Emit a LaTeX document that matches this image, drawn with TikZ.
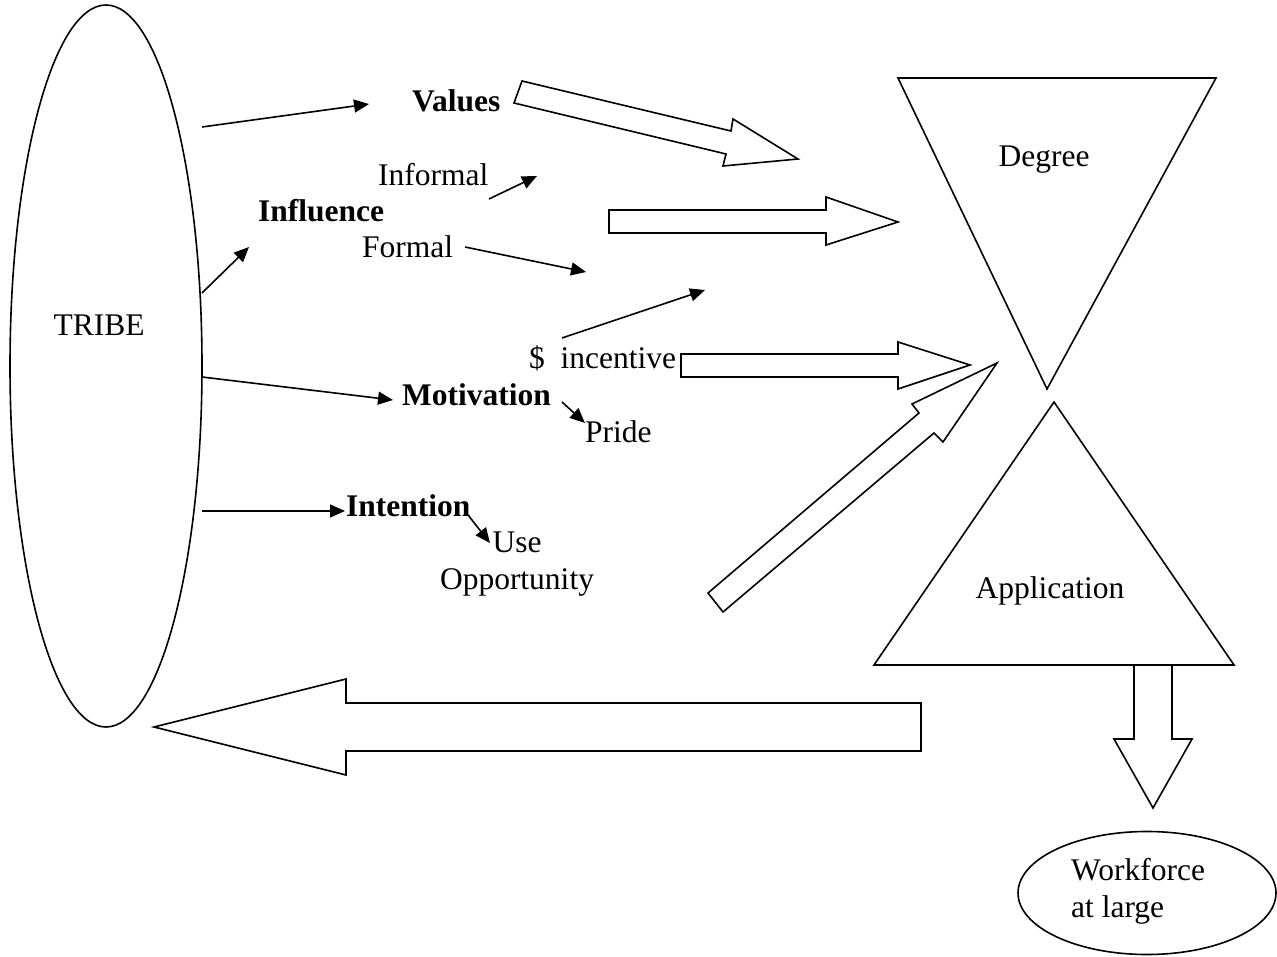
\documentclass[tikz,border=0pt]{standalone}
\usepackage{fontspec}
\setmainfont{Liberation Serif}
\usetikzlibrary{arrows.meta,shapes.geometric}
\begin{document}
\begin{tikzpicture}[x=1pt,y=-1pt,
  lw/.style={line width=1.6pt},
  txt/.style={inner sep=0pt,font=\fontsize{31.5}{37}\selectfont},
  bold/.style={txt,font=\fontsize{31.5}{37}\selectfont\bfseries},
  link/.style={lw,-{Triangle[length=15pt,width=13pt]}},
  blockarrow/.style={lw,line join=miter,fill=white},
  funnel/.style={lw,line join=miter}]
\useasboundingbox (0,0) rectangle (1277,957);

% the tribe
\node[draw,lw,ellipse,minimum width=192pt,minimum height=722pt,inner sep=0pt] (tribe) at (106,366) {};
\node[txt] (tribetxt) at (99,325) {TRIBE};

% the four drivers and their sub-items
\node[bold,anchor=base west] (values) at (412,112) {Values};
\node[bold,anchor=base west] (influence) at (258,222) {Influence};
\node[txt,anchor=base west] (informal) at (378,186) {Informal};
\node[txt,anchor=base west] (formal) at (362,258) {Formal};
\node[txt,anchor=base west] (incentive) at (529,369) {\$\ \ incentive};
\node[bold,anchor=base west] (motivation) at (402,406) {Motivation};
\node[txt,anchor=base west] (pride) at (585,442) {Pride};
\node[bold,anchor=base west] (intention) at (346,516) {Intention};
\node[txt,anchor=base,align=center] (use) at (517,589) {Use\\Opportunity};

% end points of the thin arrows
\coordinate (tv) at (202,127);  \coordinate (vh) at (369,104);
\coordinate (ti) at (202,293);  \coordinate (ih) at (249,247);
\coordinate (tm) at (202,377);  \coordinate (mh) at (393,400);
\coordinate (tn) at (202,511);  \coordinate (nh) at (345,511);
\coordinate (inf0) at (489,199); \coordinate (inf1) at (537,176);
\coordinate (for0) at (465,247); \coordinate (for1) at (586,272);
\coordinate (inc0) at (562,338); \coordinate (inc1) at (705,290);
\coordinate (pr0) at (562,402);  \coordinate (pr1) at (585,423);
\coordinate (us0) at (468,515);  \coordinate (us1) at (490,543);

\draw[link] (tv) -- (vh);
\draw[link] (ti) -- (ih);
\draw[link] (tm) -- (mh);
\draw[link] (tn) -- (nh);
\draw[link] (inf0) -- (inf1);
\draw[link] (for0) -- (for1);
\draw[link] (inc0) -- (inc1);
\draw[link] (pr0) -- (pr1);
\draw[link] (us0) -- (us1);

% hollow block arrows
\draw[blockarrow] (522,81) -- (731,131) -- (733,119) -- (798,159) -- (723,166) -- (726,154) -- (514,103) -- cycle;
\draw[blockarrow] (609,210) -- (826,210) -- (826,197) -- (898,222) -- (826,245) -- (826,233) -- (609,233) -- cycle;
\draw[blockarrow] (681,354) -- (898,354) -- (898,342) -- (970,365) -- (898,389) -- (898,377) -- (681,377) -- cycle;
\draw[blockarrow] (708,593) -- (919,413) -- (912,404) -- (997,363) -- (943,442) -- (934,433) -- (723,612) -- cycle;
\draw[blockarrow] (921,703) -- (346,703) -- (346,679) -- (154,727) -- (346,775) -- (346,751) -- (921,751) -- cycle;
\draw[blockarrow] (1134,665) -- (1134,739) -- (1114,739) -- (1153,808) -- (1192,739) -- (1172,739) -- (1172,665);

% the hourglass
\draw[funnel] (898,78) -- (1216,78) -- (1047,389) -- cycle;
\node[txt,anchor=base] (degree) at (1044,167) {Degree};
\draw[funnel] (1054,402) -- (1234,665) -- (874,665) -- cycle;
\node[txt,anchor=base] (application) at (1050,598) {Application};

% the workforce
\node[draw,lw,ellipse,minimum width=258pt,minimum height=123pt,inner sep=0pt] (work) at (1147,893) {};
\node[txt,anchor=base west,align=left] (worktxt) at (1071,917) {Workforce\\at large};
\end{tikzpicture}
\end{document}
